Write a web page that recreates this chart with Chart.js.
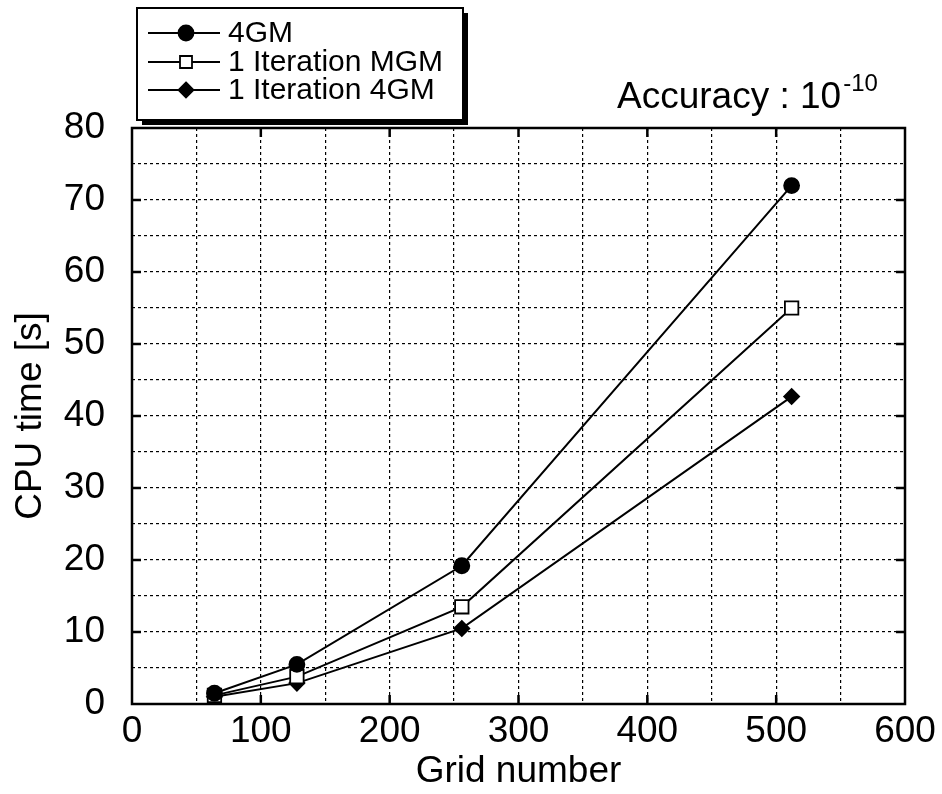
<!DOCTYPE html>
<html>
<head>
<meta charset="utf-8">
<script src="https://cdn.jsdelivr.net/npm/chart.js@4.4.1/dist/chart.umd.min.js"></script>
<style>
html,body{margin:0;padding:0;background:#fff;}
#wrap{width:942px;height:794px;position:relative;}
</style>
</head>
<body>
<div id="wrap"><canvas id="c" width="942" height="794"></canvas></div>
<script>
// ---- data ----
const gridNumbers = [64, 128, 256, 512];
const cpu4GM = [1.5, 5.5, 19.2, 72.0];
const cpu1IterMGM = [1.2, 3.8, 13.5, 55.0];
const cpu1Iter4GM = [1.0, 2.9, 10.5, 42.7];
const seriesNames = ['4GM', '1 Iteration MGM', '1 Iteration 4GM'];
const xTitle = 'Grid number';
const yTitle = 'CPU time [s]';
const noteMain = 'Accuracy : 10';
const noteSup = '-10';

const FONT = '"Liberation Sans", Arial, Helvetica, sans-serif';

function pts(ys){ return gridNumbers.map((x,i)=>({x:x,y:ys[i]})); }

const styles = [
  {pointStyle:'circle', radius:7.5, bg:'#000'},
  {pointStyle:'rect', radius:9.5, bg:'#fff'},
  {pointStyle:'rectRot', radius:7.5, bg:'#000'}
];
const allSeries = [cpu4GM, cpu1IterMGM, cpu1Iter4GM];

const datasets = allSeries.map((s,i)=>({
  label: seriesNames[i],
  data: pts(s),
  borderColor:'#000',
  borderWidth:2,
  pointStyle: styles[i].pointStyle,
  pointRadius: styles[i].radius,
  pointBackgroundColor: styles[i].bg,
  pointBorderColor:'#000',
  pointBorderWidth:1.8,
  tension:0,
  fill:false
}));

// frame, inner ticks, legend and note
const decor = {
  id:'decor',
  afterDraw(chart){
    const ctx = chart.ctx, a = chart.chartArea;
    const xs = chart.scales.x, ys = chart.scales.y;
    ctx.save();
    // frame
    ctx.strokeStyle='#000'; ctx.lineWidth=2.5; ctx.setLineDash([]);
    ctx.strokeRect(a.left, a.top, a.right-a.left, a.bottom-a.top);
    // inner ticks at labeled values
    ctx.lineWidth=2.5;
    ctx.beginPath();
    for(let v=100; v<600; v+=100){
      const px = xs.getPixelForValue(v);
      ctx.moveTo(px, a.bottom); ctx.lineTo(px, a.bottom-9);
      ctx.moveTo(px, a.top); ctx.lineTo(px, a.top+9);
    }
    for(let v=10; v<80; v+=10){
      const py = ys.getPixelForValue(v);
      ctx.moveTo(a.left, py); ctx.lineTo(a.left+9, py);
      ctx.moveTo(a.right, py); ctx.lineTo(a.right-9, py);
    }
    ctx.stroke();

    // legend box with shadow
    const bx=137, by=8, bw=326, bh=112;
    ctx.fillStyle='#000';
    ctx.fillRect(bx+5, by+5, bw, bh);
    ctx.fillStyle='#fff';
    ctx.fillRect(bx, by, bw, bh);
    ctx.lineWidth=2; ctx.strokeStyle='#000';
    ctx.strokeRect(bx, by, bw, bh);
    ctx.font = '30px ' + FONT;
    ctx.textBaseline='middle'; ctx.textAlign='left';
    const rowY=[33,62,90];
    chart.data.datasets.forEach((ds,i)=>{
      const y=rowY[i];
      ctx.beginPath(); ctx.lineWidth=2; ctx.strokeStyle='#000';
      ctx.moveTo(148,y); ctx.lineTo(220,y); ctx.stroke();
      ctx.fillStyle = ds.pointBackgroundColor;
      ctx.lineWidth=1.8;
      const cx=186;
      ctx.beginPath();
      if(ds.pointStyle==='circle'){ ctx.arc(cx,y,7.5,0,Math.PI*2); }
      else if(ds.pointStyle==='rect'){ ctx.rect(cx-6,y-6,12,12); }
      else { ctx.moveTo(cx,y-7.5); ctx.lineTo(cx+7.5,y); ctx.lineTo(cx,y+7.5); ctx.lineTo(cx-7.5,y); ctx.closePath(); }
      ctx.fill(); ctx.stroke();
      ctx.fillStyle='#000';
      ctx.fillText(ds.label, 228, y+1);
    });

    // accuracy note
    ctx.font = '37px ' + FONT;
    ctx.textBaseline='alphabetic';
    ctx.fillText(noteMain, 617, 108);
    const w = ctx.measureText(noteMain).width;
    ctx.font = '24px ' + FONT;
    ctx.fillText(noteSup, 617+w+2, 91);
    ctx.restore();
  }
};

new Chart(document.getElementById('c'), {
  type:'line',
  data:{datasets:datasets},
  options:{
    responsive:false,
    animation:false,
    events:[],
    layout:{padding:{top:128, right:37, left:0, bottom:0}},
    plugins:{legend:{display:false}, tooltip:{enabled:false}},
    scales:{
      x:{
        type:'linear', min:0, max:600,
        afterFit(s){ s.height = 90; },
        ticks:{stepSize:50, color:'#000', padding:6, maxRotation:0, autoSkip:false, font:{family:FONT, size:37},
          callback:(v)=> (v%100===0 ? String(v) : '')},
        grid:{color:'#000', lineWidth:1.2, drawTicks:false},
        border:{display:false, dash:[3,3]},
        title:{display:true, text:xTitle, color:'#000', font:{family:FONT, size:37}, padding:{top:0,bottom:0}}
      },
      y:{
        min:0, max:80,
        afterFit(s){ s.width = 132; },
        ticks:{stepSize:5, color:'#000', padding:27, autoSkip:false, font:{family:FONT, size:37},
          callback:(v)=> (v%10===0 ? String(v) : '')},
        grid:{color:'#000', lineWidth:1.2, drawTicks:false},
        border:{display:false, dash:[3,3]},
        title:{display:true, text:yTitle, color:'#000', font:{family:FONT, size:37}, padding:{top:9,bottom:0}}
      }
    }
  },
  plugins:[decor]
});
</script>
</body>
</html>
